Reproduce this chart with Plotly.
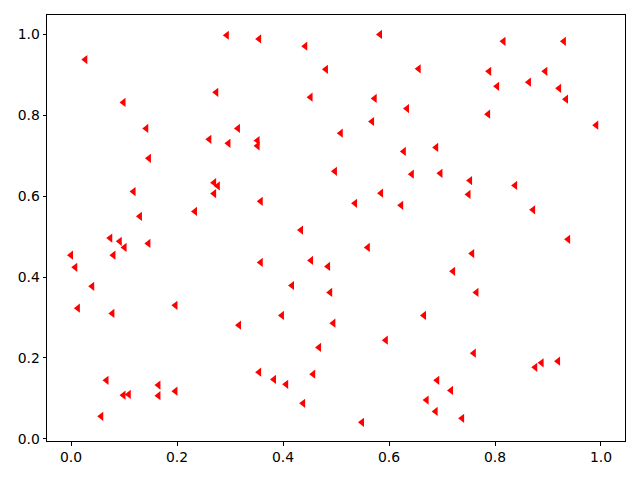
import plotly.graph_objects as go

x_vals = [0.294, 0.027, 0.274, 0.099, 0.142, 0.315, 0.261, 0.297, 0.147, 0.270,
          0.277, 0.270, 0.118, 0.234, 0.130, 0.355, 0.442, 0.583, 0.481, 0.656,
          0.452, 0.573, 0.634, 0.568, 0.509, 0.352, 0.352, 0.628, 0.498, 0.643,
          0.585, 0.358, 0.536, 0.623, 0.434, 0.816, 0.930, 0.789, 0.895, 0.804,
          0.864, 0.921, 0.934, 0.787, 0.991, 0.689, 0.697, 0.753, 0.750, 0.838,
          0.872, 0.074, 0.092, 0.101, 0.146, 0.000, 0.080, 0.008, 0.040, 0.013,
          0.078, 0.197, 0.317, 0.067, 0.099, 0.109, 0.165, 0.165, 0.197, 0.057,
          0.560, 0.358, 0.453, 0.485, 0.417, 0.489, 0.398, 0.495, 0.666, 0.594,
          0.468, 0.355, 0.383, 0.457, 0.406, 0.438, 0.671, 0.549, 0.938, 0.757,
          0.721, 0.765, 0.760, 0.876, 0.888, 0.919, 0.691, 0.717, 0.688, 0.738]

y_vals = [0.997, 0.937, 0.856, 0.831, 0.767, 0.767, 0.740, 0.730, 0.693, 0.633,
          0.625, 0.606, 0.611, 0.562, 0.550, 0.988, 0.970, 0.999, 0.913, 0.914,
          0.844, 0.841, 0.816, 0.784, 0.755, 0.737, 0.724, 0.710, 0.661, 0.654,
          0.607, 0.587, 0.582, 0.577, 0.516, 0.982, 0.982, 0.908, 0.908, 0.871,
          0.881, 0.866, 0.839, 0.802, 0.775, 0.720, 0.656, 0.638, 0.604, 0.626,
          0.566, 0.496, 0.488, 0.473, 0.483, 0.454, 0.454, 0.424, 0.377, 0.323,
          0.310, 0.330, 0.281, 0.145, 0.108, 0.110, 0.133, 0.107, 0.118, 0.056,
          0.473, 0.436, 0.441, 0.426, 0.379, 0.362, 0.305, 0.286, 0.305, 0.244,
          0.226, 0.165, 0.147, 0.160, 0.135, 0.088, 0.096, 0.041, 0.493, 0.458,
          0.414, 0.362, 0.212, 0.177, 0.188, 0.192, 0.145, 0.120, 0.068, 0.051]

fig = go.Figure()
fig.add_trace(go.Scatter(
    x=x_vals, y=y_vals, mode="markers",
    marker=dict(symbol="triangle-left", size=8, color="red", line=dict(width=0)),
    showlegend=False,
))

axis_common = dict(
    showgrid=False, zeroline=False, showline=True, mirror=True,
    linecolor="black", linewidth=1, ticks="outside", ticklen=3.5,
    tickwidth=1, tickcolor="black", tick0=0, dtick=0.2, tickformat=".1f",
    tickfont=dict(family="DejaVu Sans", size=13.9, color="black"),
)

# the page body adds an 8 px margin, so the figure is sized to fit the window
fig.update_layout(
    width=624, height=464,
    margin=dict(l=39, r=7, t=7, b=31, autoexpand=False),
    plot_bgcolor="white", paper_bgcolor="white",
    xaxis=dict(range=[-0.0453, 1.0453], **axis_common),
    yaxis=dict(range=[-0.005, 1.047], **axis_common),
)

fig.write_html("out.html")
